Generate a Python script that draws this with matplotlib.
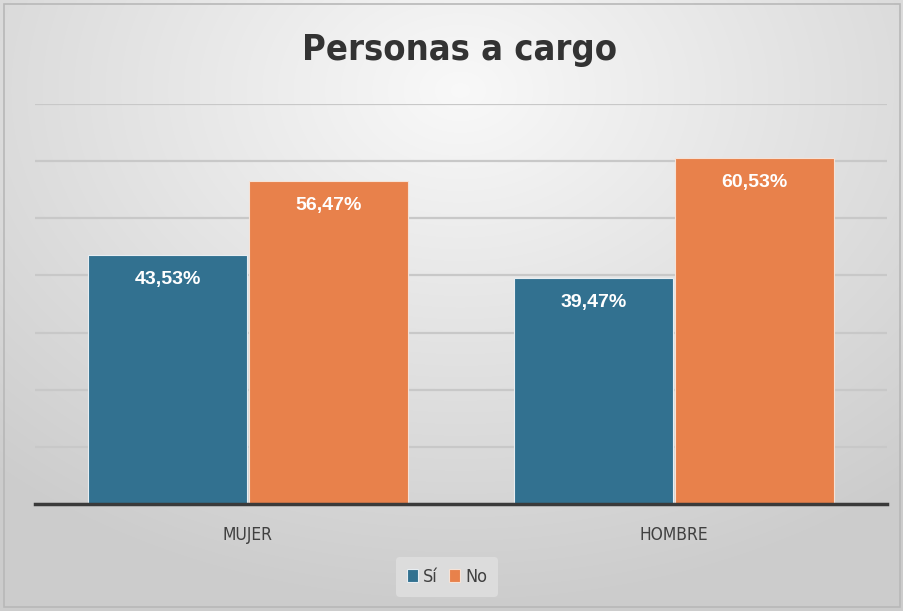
import numpy as np
import matplotlib
matplotlib.use('Agg')
import matplotlib.pyplot as plt
from matplotlib.patches import Rectangle
from matplotlib.font_manager import FontProperties

categories = ['MUJER', 'HOMBRE']
si_vals = [43.53, 39.47]
no_vals = [56.47, 60.53]
series_names = ['Sí', 'No']
colors = ['#327190', '#E8814B']

fig = plt.figure(figsize=(9.04, 6.11), dpi=100)

# background gradient
bg = fig.add_axes([0, 0, 1, 1], zorder=0)
yy, xx = np.mgrid[0:611, 0:904]
d = np.sqrt(((xx - 460) / 700.0) ** 2 + ((yy - 90) / 520.0) ** 2)
d = np.clip(d, 0, 1)
top = np.array([0.975, 0.975, 0.975])
bot = np.array([0.80, 0.80, 0.80])
img = top[None, None, :] * (1 - d[..., None]) + bot[None, None, :] * d[..., None]
bg.imshow(img, aspect='auto', extent=[0, 904, 611, 0])
bg.add_patch(Rectangle((4, 4), 896, 603, fill=False, edgecolor='#b8b8b8', lw=1.2))
bg.set_xlim(0, 904)
bg.set_ylim(611, 0)
bg.axis('off')

ax = fig.add_axes([35 / 904, 1 - 504 / 611, 852 / 904, 400 / 611], zorder=1)
ax.patch.set_alpha(0)

x = np.arange(len(categories))
w = 0.373
b1 = ax.bar(x - w / 2 - 0.002, si_vals, w, color=colors[0], edgecolor='#e8eef2', lw=0.8, label=series_names[0], zorder=3)
b2 = ax.bar(x + w / 2 + 0.002, no_vals, w, color=colors[1], edgecolor='#f6e2d6', lw=0.8, label=series_names[1], zorder=3)

for bars, vals in [(b1, si_vals), (b2, no_vals)]:
    for r, v in zip(bars, vals):
        ax.annotate(('%.2f' % v).replace('.', ',') + '%',
                    (r.get_x() + r.get_width() / 2, v), xytext=(0, -24),
                    textcoords='offset pixels',
                    ha='center', va='center', color='white', fontsize=14,
                    fontweight='bold', family='Liberation Sans', zorder=4)

narrow = FontProperties(family='DejaVu Sans', stretch='condensed', size=12.5)

ax.set_xlim(-0.5, 1.5)
ax.set_ylim(0, 70)
ax.set_yticks(np.arange(0, 71, 10))
ax.yaxis.grid(True, color='#c8c8c8', lw=1.6, zorder=0)
ax.tick_params(axis='y', left=False, labelleft=False)
ax.tick_params(axis='x', bottom=False, pad=12)
ax.set_xticks(x)
ax.set_xticklabels(categories, color='#404040', fontproperties=narrow)
for s in ['top', 'right', 'left']:
    ax.spines[s].set_visible(False)
ax.spines['bottom'].set_color('#3a3a3a')
ax.spines['bottom'].set_linewidth(2.5)
ax.spines['bottom'].set_zorder(5)

fig.text(0.508, 1 - 50 / 611, 'Personas a cargo', ha='center', va='center',
         color='#333333',
         fontproperties=FontProperties(family='DejaVu Sans', stretch='condensed', weight='bold', size=26))

leg = fig.legend(handles=[b1, b2], loc='center', bbox_to_anchor=(447 / 904, 1 - 577 / 611),
                 ncol=2, frameon=True, handlelength=0.6, handleheight=0.7,
                 handletextpad=0.3, columnspacing=0.6, borderpad=0.6,
                 prop=FontProperties(family='DejaVu Sans', stretch='condensed', size=13))
leg.get_frame().set_facecolor('#dedede')
leg.get_frame().set_edgecolor('none')
leg.get_frame().set_alpha(0.9)
for t in leg.get_texts():
    t.set_color('#404040')

fig.savefig('out.png', dpi=100)
